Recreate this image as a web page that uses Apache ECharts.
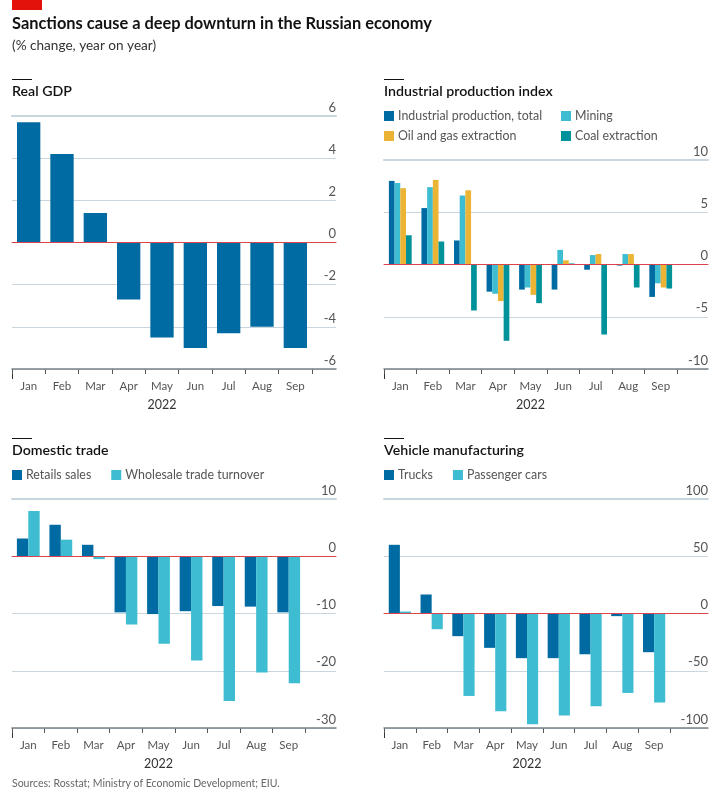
<!DOCTYPE html>
<html lang="en">

<head>
    <meta charset="UTF-8">
    <title>Sanctions cause a deep downturn in the Russian economy</title>
    <style>
        html, body { margin: 0; padding: 0; background: #fff; }
        #chart { width: 720px; height: 800px; }
    </style>
</head>

<body>
    <div id="chart"></div>
    <script src="https://cdn.jsdelivr.net/npm/echarts@6/dist/echarts.min.js"></script>
    <script>
        var months = ['Jan', 'Feb', 'Mar', 'Apr', 'May', 'Jun', 'Jul', 'Aug', 'Sep'];

        var realGdp = [5.7, 4.2, 1.4, -2.7, -4.5, -5.0, -4.3, -4.0, -5.0];

        var industrialTotal = [8.0, 5.4, 2.3, -2.6, -2.4, -2.4, -0.5, -0.1, -3.1];
        var mining = [7.8, 7.4, 6.6, -2.8, -2.2, 1.4, 0.9, 1.0, -1.8];
        var oilAndGas = [7.3, 8.1, 7.1, -3.5, -2.9, 0.4, 1.0, 1.0, -2.2];
        var coal = [2.8, 2.2, -4.4, -7.3, -3.7, 0.1, -6.7, -2.2, -2.3];

        var retailSales = [3.1, 5.5, 2.0, -9.8, -10.1, -9.6, -8.7, -8.8, -9.8];
        var wholesale = [7.9, 2.9, -0.5, -11.9, -15.3, -18.2, -25.3, -20.3, -22.2];

        var trucks = [60, 16.6, -19.8, -30, -39, -39, -35.6, -2.3, -33.8];
        var passengerCars = [1.7, -13.7, -72, -85.4, -96.8, -89, -81, -69.4, -77.8];

        var FONT = 'Lato';
        var BLUE = '#006BA2', CYAN = '#3EBCD2', GOLD = '#EBB434', TEAL = '#00929A';
        var RED = '#DB444B', GRID = '#C9D6DE', AXIS = '#7A8288', TEXT = '#555', INK = '#121212';

        // left/right: full panel, tickRight: where the month ticks stop
        var panels = [
            {
                title: 'Real GDP', titleTop: 84, left: 12, right: 336, tickRight: 312, top: 116, bottom: 369,
                min: -6, max: 6, interval: 2,
                series: [{ name: 'Real GDP', data: realGdp, color: BLUE }]
            },
            {
                title: 'Industrial production index', titleTop: 84, left: 384, right: 708, tickRight: 677, top: 160, bottom: 369,
                min: -10, max: 10, interval: 5,
                series: [
                    { name: 'Industrial production, total', data: industrialTotal, color: BLUE },
                    { name: 'Mining', data: mining, color: CYAN },
                    { name: 'Oil and gas extraction', data: oilAndGas, color: GOLD },
                    { name: 'Coal extraction', data: coal, color: TEAL }
                ]
            },
            {
                title: 'Domestic trade', titleTop: 443, left: 12, right: 336, tickRight: 305, top: 499, bottom: 728,
                min: -30, max: 10, interval: 10,
                series: [
                    { name: 'Retails sales', data: retailSales, color: BLUE },
                    { name: 'Wholesale trade turnover', data: wholesale, color: CYAN }
                ]
            },
            {
                title: 'Vehicle manufacturing', titleTop: 443, left: 384, right: 708, tickRight: 670, top: 499, bottom: 728,
                min: -100, max: 100, interval: 50,
                series: [
                    { name: 'Trucks', data: trucks, color: BLUE },
                    { name: 'Passenger cars', data: passengerCars, color: CYAN }
                ]
            }
        ];

        var legends = [
            { left: 384, top: 110, orient: 'vertical', data: ['Industrial production, total', 'Oil and gas extraction'] },
            { left: 561, top: 110, orient: 'vertical', data: ['Mining', 'Coal extraction'] },
            { left: 12, top: 469, orient: 'horizontal', data: ['Retails sales', 'Wholesale trade turnover'] },
            { left: 384, top: 469, orient: 'horizontal', data: ['Trucks', 'Passenger cars'] }
        ];

        var grids = [], xAxes = [], yAxes = [], series = [], titles = [], graphics = [];

        titles.push({
            text: 'Sanctions cause a deep downturn in the Russian economy', left: 12, top: 16, padding: 0,
            textStyle: { fontFamily: FONT, fontSize: 16.4, fontWeight: 'bold', color: INK }
        });
        titles.push({
            text: '(% change, year on year)', left: 12, top: 39, padding: 0,
            textStyle: { fontFamily: FONT, fontSize: 13.6, fontWeight: 'normal', color: '#333' }
        });
        titles.push({
            text: 'Sources: Rosstat; Ministry of Economic Development; EIU.', left: 12, top: 778, padding: 0,
            textStyle: { fontFamily: FONT, fontSize: 10.5, fontWeight: 'normal', color: '#666' }
        });

        graphics.push({ type: 'rect', shape: { x: 12, y: 0, width: 30, height: 10 }, style: { fill: '#E3120B' } });

        panels.forEach(function (p) {
            titles.push({
                text: p.title, left: p.left, top: p.titleTop, padding: 0,
                textStyle: { fontFamily: FONT, fontSize: 14.2, fontWeight: 600, color: INK }
            });
            graphics.push({
                type: 'line', shape: { x1: p.left, y1: p.titleTop - 4.5, x2: p.left + 20, y2: p.titleTop - 4.5 },
                style: { stroke: INK, lineWidth: 1 }
            });
            // first tick is longer and darker than the others
            graphics.push({
                type: 'line', shape: { x1: p.left + 0.5, y1: p.bottom, x2: p.left + 0.5, y2: p.bottom + 10 },
                style: { stroke: '#333', lineWidth: 1 }
            });

            // back grid: full width, carries gridlines, y labels, zero line and frame lines
            var back = grids.length;
            grids.push({ left: p.left, top: p.top, width: p.right - p.left, height: p.bottom - p.top });
            yAxes.push({
                gridIndex: back, type: 'value', position: 'right', min: p.min, max: p.max, interval: p.interval,
                axisLine: { show: false }, axisTick: { show: false },
                axisLabel: {
                    inside: true, margin: 0, align: 'right', verticalAlign: 'bottom', padding: [0, 0, 2, 0],
                    fontFamily: FONT, fontSize: 13, color: TEXT
                },
                splitLine: { lineStyle: { color: GRID, width: 1 } }
            });
            xAxes.push({
                gridIndex: back, type: 'category', data: months, position: 'bottom', z: 5,
                axisLine: { onZero: true, lineStyle: { color: RED, width: 1 } },
                axisTick: { show: false }, axisLabel: { show: false }
            });
            xAxes.push({
                gridIndex: back, type: 'category', data: months, position: 'bottom', z: 1,
                axisLine: { onZero: false, lineStyle: { color: AXIS, width: 1.5 } },
                axisTick: { show: false }, axisLabel: { show: false }
            });
            xAxes.push({
                gridIndex: back, type: 'category', data: months, position: 'top', z: 1,
                axisLine: { onZero: false, lineStyle: { color: GRID, width: 2 } },
                axisTick: { show: false }, axisLabel: { show: false }
            });

            // front grid: stops at the last month tick, carries the bars
            var front = grids.length;
            grids.push({ left: p.left, top: p.top, width: p.tickRight - p.left, height: p.bottom - p.top });
            yAxes.push({
                gridIndex: front, type: 'value', min: p.min, max: p.max, interval: p.interval, show: false
            });
            var frontX = xAxes.length;
            var frontY = yAxes.length - 1;
            xAxes.push({
                gridIndex: front, type: 'category', data: months, position: 'bottom',
                name: '2022', nameLocation: 'middle', nameGap: 29,
                nameTextStyle: { fontFamily: FONT, fontSize: 12.5, color: '#333' },
                axisLine: { onZero: false, show: false },
                axisTick: { show: true, length: 5, alignWithLabel: false, lineStyle: { color: '#555', width: 1 } },
                axisLabel: { interval: 0, margin: 11, fontFamily: FONT, fontSize: 11.5, color: TEXT }
            });

            p.series.forEach(function (s) {
                series.push({
                    type: 'bar', name: s.name, data: s.data, xAxisIndex: frontX, yAxisIndex: frontY,
                    barGap: 0, barCategoryGap: '30%', itemStyle: { color: s.color }, animation: false
                });
            });
        });

        var chart = echarts.init(document.getElementById('chart'), null, { renderer: 'canvas' });
        chart.setOption({
            animation: false,
            backgroundColor: '#fff',
            title: titles,
            grid: grids,
            xAxis: xAxes,
            yAxis: yAxes,
            series: series,
            graphic: graphics,
            legend: legends.map(function (l) {
                return {
                    left: l.left, top: l.top, orient: l.orient, data: l.data, padding: 0,
                    itemWidth: 10, itemHeight: 10, itemGap: l.orient === 'vertical' ? 8 : 20,
                    selectedMode: false, icon: 'rect',
                    textStyle: { fontFamily: FONT, fontSize: 12.4, color: TEXT, padding: [0, 0, 0, -1] }
                };
            })
        });
    </script>
</body>

</html>
